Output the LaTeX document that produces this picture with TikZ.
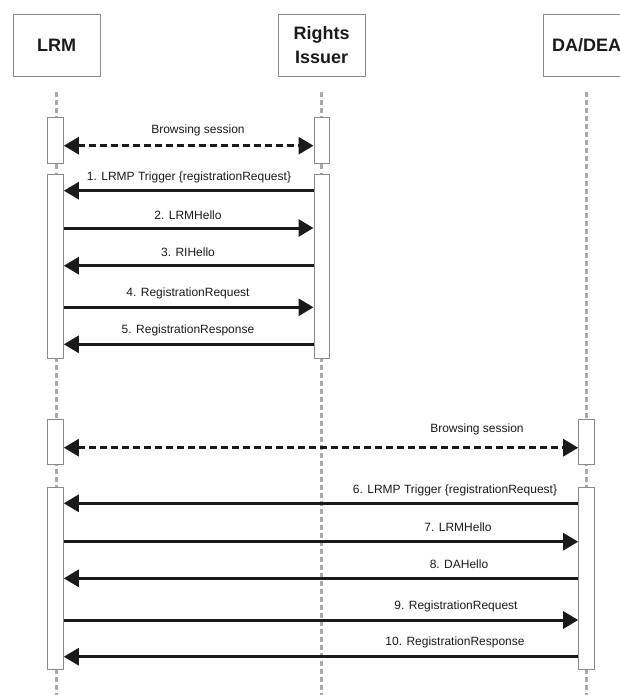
\documentclass[tikz,border=0pt]{standalone}
\usepackage{fontspec}
\setmainfont{Liberation Sans}
\usetikzlibrary{arrows.meta}
\definecolor{boxgray}{HTML}{8A8A8A}
\definecolor{lifegray}{HTML}{A9A9A9}
\definecolor{ink}{HTML}{1A1A1A}
\begin{document}
\begin{tikzpicture}[x=1pt,y=1pt,
  actor/.style={draw=boxgray, line width=0.9pt, minimum width=87pt, minimum height=62.5pt,
    font=\bfseries\fontsize{18}{24}\selectfont, text=ink, align=center, inner sep=0pt},
  act/.style={draw=boxgray, fill=white, line width=0.8pt, minimum width=15.8pt, inner sep=0pt, anchor=north},
  life/.style={draw=lifegray, line width=3pt, dash pattern=on 5pt off 3pt},
  msg/.style={draw=ink, line width=3pt, -{Triangle[length=15pt,width=17pt]}},
  brw/.style={draw=ink, line width=3pt, dash pattern=on 7pt off 4pt,
    {Triangle[length=15pt,width=17pt]}-{Triangle[length=15pt,width=17pt]}},
  lbl/.style={font=\fontsize{12}{14}\selectfont, text=ink, inner sep=0pt}]
\useasboundingbox (0,0) rectangle (620,-695);

% actors
\node[actor] (lrm) at (56.5,-45.3) {LRM};
\node[actor] (ri) at (321.7,-45.3) {Rights\\Issuer};
\node[actor] (da) at (586.5,-45.3) {DA/DEA};

% lifeline ends
\coordinate (lrmE) at (56,-695);
\coordinate (riE) at (321.8,-695);
\coordinate (daE) at (586.5,-695);
\draw[life] ([yshift=-15.5pt]lrm.south -| lrmE) -- (lrmE);
\draw[life] ([yshift=-15.5pt]ri.south -| riE) -- (riE);
\draw[life] ([yshift=-15.5pt]da.south -| daE) -- (daE);

% activation boxes
\node[act, minimum height=45.4pt] (la1) at (55.5,-117.3) {};
\node[act, minimum height=183.7pt] (la2) at (55.5,-174) {};
\node[act, minimum height=45.4pt] (ra1) at (321.8,-117.3) {};
\node[act, minimum height=183.7pt] (ra2) at (321.8,-174) {};
\node[act, minimum height=45pt] (la3) at (55.5,-419) {};
\node[act, minimum height=182.6pt] (la4) at (55.5,-486.7) {};
\node[act, minimum height=45pt] (da3) at (586.5,-419) {};
\node[act, minimum height=182.6pt] (da4) at (586.5,-486.7) {};

% first session
\draw[brw] (la1.east |- 0,-145.7) -- (ra1.west |- 0,-145.7);
\node[lbl] (b1) at (198,-130) {Browsing session};
\draw[msg] (ra2.west |- 0,-190.7) -- (la2.east |- 0,-190.7);
\node[lbl] (t1) at (189,-177) {1. LRMP Trigger \{registrationRequest\}};
\draw[msg] (la2.east |- 0,-228) -- (ra2.west |- 0,-228);
\node[lbl] (t2) at (188,-215.5) {2. LRMHello};
\draw[msg] (ra2.west |- 0,-265.7) -- (la2.east |- 0,-265.7);
\node[lbl] (t3) at (188,-252.7) {3. RIHello};
\draw[msg] (la2.east |- 0,-307.3) -- (ra2.west |- 0,-307.3);
\node[lbl] (t4) at (188,-293) {4. RegistrationRequest};
\draw[msg] (ra2.west |- 0,-344.3) -- (la2.east |- 0,-344.3);
\node[lbl] (t5) at (188,-330) {5. RegistrationResponse};

% second session
\draw[brw] (la3.east |- 0,-447.7) -- (da3.west |- 0,-447.7);
\node[lbl] (b2) at (477,-429) {Browsing session};
\draw[msg] (da4.west |- 0,-503.3) -- (la4.east |- 0,-503.3);
\node[lbl] (t6) at (455,-490.7) {6. LRMP Trigger \{registrationRequest\}};
\draw[msg] (la4.east |- 0,-541.7) -- (da4.west |- 0,-541.7);
\node[lbl] (t7) at (458,-527.7) {7. LRMHello};
\draw[msg] (da4.west |- 0,-578.3) -- (la4.east |- 0,-578.3);
\node[lbl] (t8) at (459,-564.3) {8. DAHello};
\draw[msg] (la4.east |- 0,-620) -- (da4.west |- 0,-620);
\node[lbl] (t9) at (456,-606) {9. RegistrationRequest};
\draw[msg] (da4.west |- 0,-656.7) -- (la4.east |- 0,-656.7);
\node[lbl] (t10) at (455,-642.7) {10. RegistrationResponse};
\end{tikzpicture}
\end{document}
